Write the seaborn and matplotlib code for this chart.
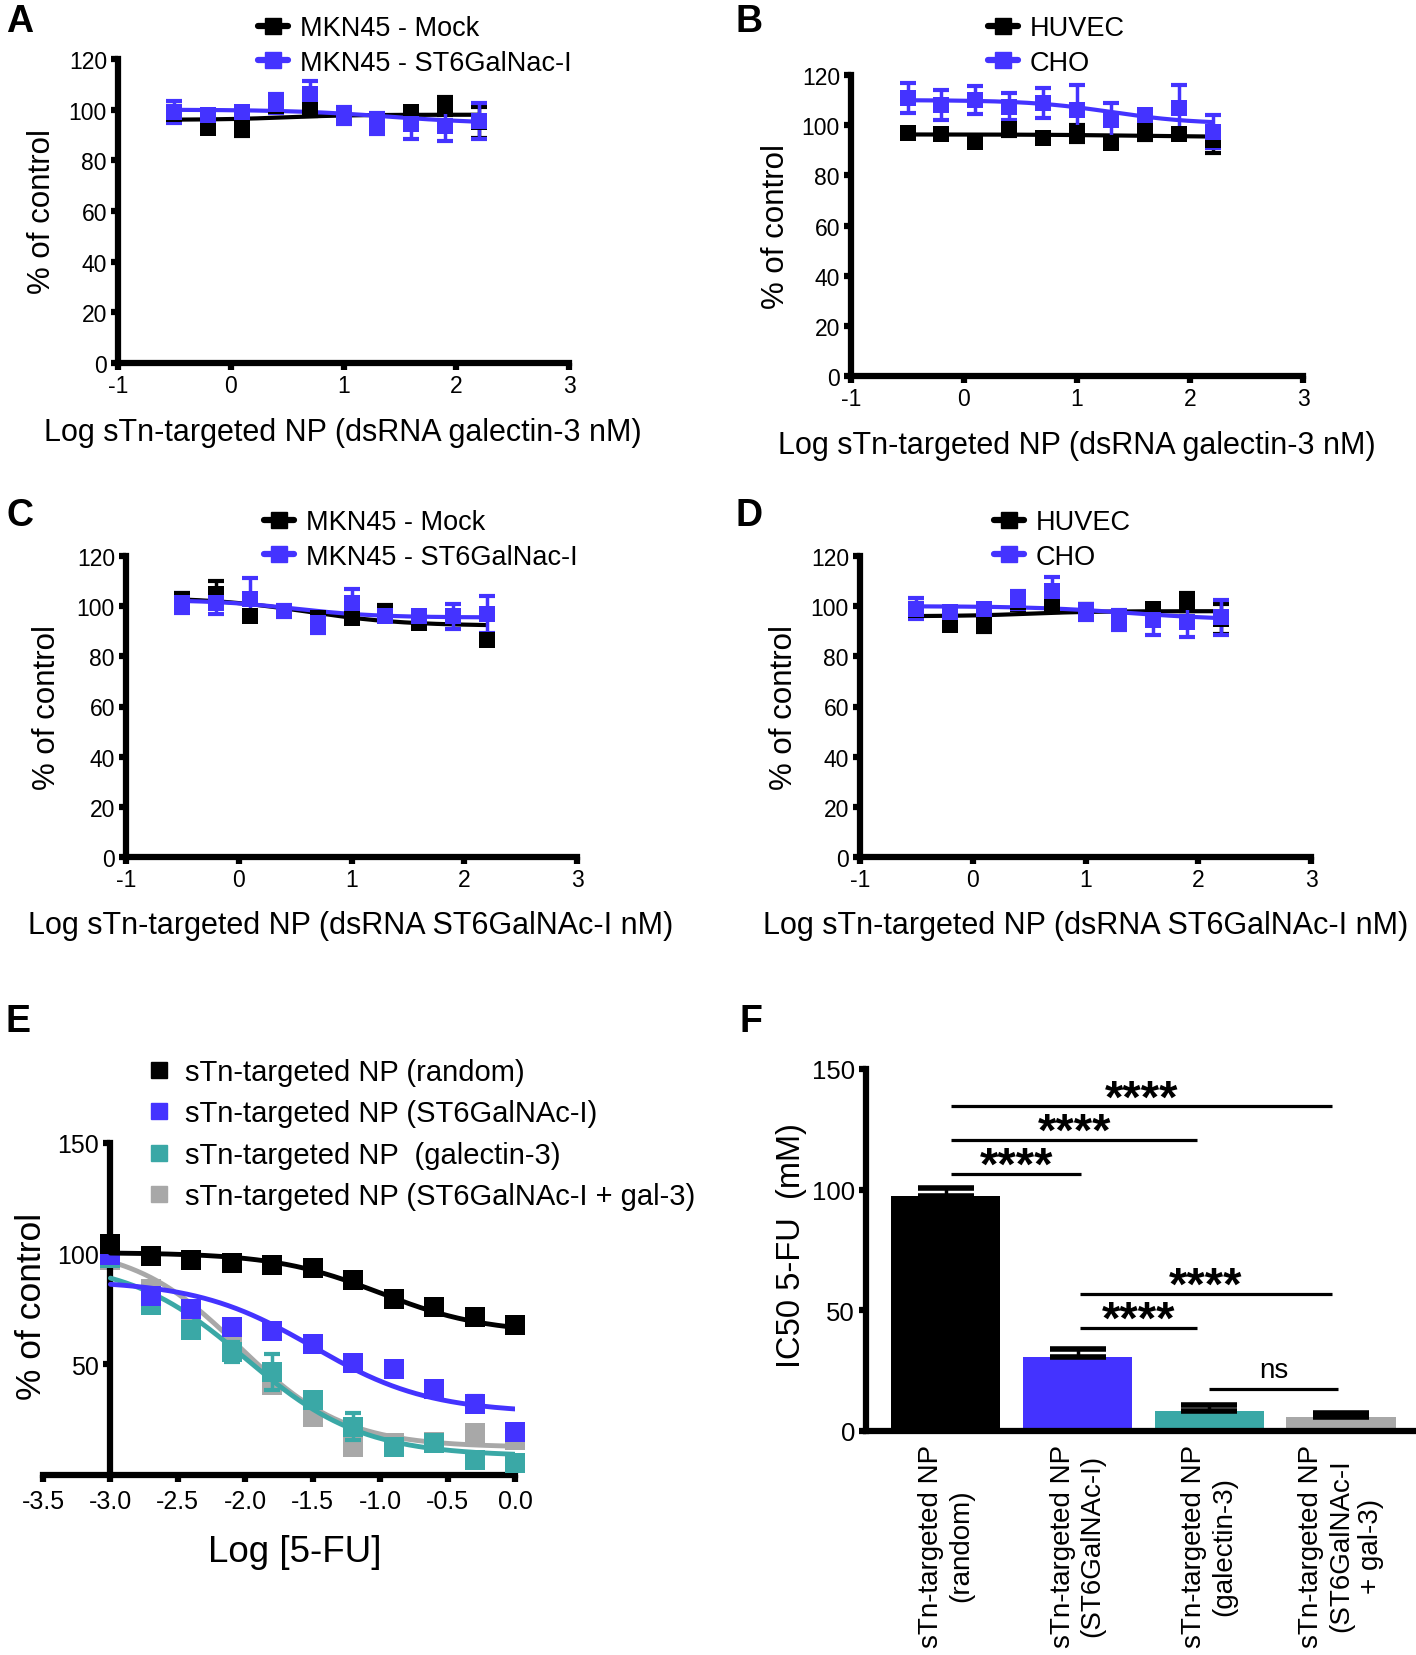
import numpy as np
import matplotlib
matplotlib.use('Agg')
import matplotlib.pyplot as plt
from matplotlib.lines import Line2D
import seaborn as sns

# ---- data ----
# panels A-D: log dose of the sTn-targeted NP
log_np = [-0.5, -0.2, 0.1, 0.4, 0.7, 1.0, 1.3, 1.6, 1.9, 2.2]

# A: dsRNA galectin-3 on MKN45 cells
a_mock = [98.4, 92.6, 92.6, 101.5, 101.0, 97.7, 94.5, 99.0, 101.5, 95.0]
a_mock_sd = [3.0, 2.0, 3.0, 3.0, 3.5, 3.0, 2.0, 2.0, 3.6, 6.0]
a_st6 = [99.0, 97.7, 99.0, 102.4, 106.0, 97.7, 94.5, 94.4, 93.7, 95.5]
a_st6_sd = [4.3, 2.0, 2.0, 3.6, 5.5, 3.3, 4.0, 6.0, 6.0, 7.0]

# B: dsRNA galectin-3 on HUVEC / CHO
b_huvec = [96.7, 96.3, 93.4, 98.5, 94.7, 96.7, 92.8, 98.0, 96.3, 94.0]
b_huvec_sd = [1.5, 1.5, 1.5, 3.0, 1.5, 3.5, 1.5, 4.0, 1.5, 5.0]
b_cho = [111.0, 108.0, 110.0, 107.4, 108.7, 106.0, 102.0, 104.0, 106.7, 97.4]
b_cho_sd = [6.0, 6.0, 5.5, 5.5, 6.0, 10.0, 7.0, 2.0, 9.5, 6.5]

# C: dsRNA ST6GalNAc-I on MKN45 cells
c_mock = [102.7, 104.7, 96.0, 98.0, 95.3, 95.3, 98.0, 93.3, 96.0, 86.7]
c_mock_sd = [2.5, 5.5, 1.5, 2.0, 2.0, 1.5, 2.5, 1.5, 2.0, 1.5]
c_st6 = [101.3, 101.3, 102.7, 98.0, 93.3, 101.3, 96.0, 96.0, 96.0, 96.7]
c_st6_sd = [4.0, 4.5, 8.5, 2.5, 4.0, 5.5, 2.0, 1.5, 5.0, 7.5]

# D: dsRNA ST6GalNAc-I on HUVEC / CHO (same values as shown in A)
d_huvec = [98.4, 92.6, 92.6, 101.5, 101.0, 97.7, 94.5, 99.0, 101.5, 95.0]
d_huvec_sd = [3.0, 2.0, 3.0, 3.0, 3.5, 3.0, 2.0, 2.0, 3.6, 6.0]
d_cho = [99.0, 97.7, 99.0, 102.4, 106.0, 97.7, 94.5, 94.4, 93.7, 95.5]
d_cho_sd = [4.3, 2.0, 2.0, 3.6, 5.5, 3.3, 4.0, 6.0, 6.0, 7.0]

# 4PL fit parameters: top, bottom, logIC50, hill
a_mock_fit = [96.0, 98.0, 0.5, 1.5]
a_st6_fit = [100.0, 94.5, 1.4, 1.0]
b_huvec_fit = [96.3, 95.3, 1.5, 1.0]
b_cho_fit = [110.0, 100.5, 1.3, 1.2]
c_mock_fit = [103.5, 92.2, 0.6, 1.0]
c_st6_fit = [102.5, 95.5, 0.5, 1.2]
d_huvec_fit = a_mock_fit
d_cho_fit = a_st6_fit

# E: 5-FU dose response
log_fu = [-3.0, -2.7, -2.4, -2.1, -1.8, -1.5, -1.2, -0.9, -0.6, -0.3, 0.0]
e_random = [104.4, 98.8, 97.3, 96.0, 95.0, 93.5, 88.3, 79.7, 75.7, 71.5, 67.6]
e_random_sd = [0.8] * 11
e_st6 = [99.2, 80.7, 75.0, 66.8, 64.9, 59.0, 50.6, 48.0, 39.0, 32.3, 19.5]
e_st6_sd = [1, 1, 1, 1, 1, 1, 1, 1, 1, 3.5, 1]
e_gal3 = [98.0, 76.6, 65.3, 55.6, 46.5, 33.8, 21.8, 12.8, 14.3, 6.8, 5.3]
e_gal3_sd = [1, 2.5, 1, 4.5, 8, 1.5, 6, 1, 1, 1, 1]
e_combo = [97.0, 84.0, 70.6, 58.6, 40.5, 26.3, 12.8, 14.3, 15.0, 18.8, 15.8]
e_combo_sd = [1, 1, 1, 1, 1.5, 1, 1, 1, 1, 1, 1]
e_random_fit = [100.5, 64.0, -1.0, 1.1]
e_st6_fit = [88.0, 28.0, -1.5, 1.0]
e_gal3_fit = [97.0, 8.5, -2.0, 1.0]
e_combo_fit = [104.0, 12.5, -2.05, 1.1]
e_names = ['sTn-targeted NP (random)', 'sTn-targeted NP (ST6GalNAc-I)',
           'sTn-targeted NP  (galectin-3)', 'sTn-targeted NP (ST6GalNAc-I + gal-3)']

# F: IC50 of 5-FU
f_labels = ['sTn-targeted NP\n(random)', 'sTn-targeted NP\n(ST6GalNAc-I)',
            'sTn-targeted NP\n(galectin-3)', 'sTn-targeted NP\n(ST6GalNAc-I\n+ gal-3)']
f_ic50 = [97.5, 30.8, 8.4, 5.7]
f_sem = [3.0, 3.3, 2.4, 1.7]
sig_x0 = [0.04, 0.04, 0.04, 1.02, 1.02, 2.0]
sig_x1 = [1.03, 1.91, 2.93, 2.93, 1.91, 2.98]
sig_y = [106.4, 120.7, 134.5, 56.9, 42.8, 17.2]
sig_text = ['****', '****', '****', '****', '****', 'ns']

BLACK = '#000000'
BLUE = '#4433FF'
TEAL = '#3AA8A6'
GRAY = '#A8A8A8'

sns.set_theme(style='ticks')
plt.rcParams['font.family'] = ['Liberation Sans', 'DejaVu Sans']
plt.rcParams['axes.unicode_minus'] = False
for key in ['text.color', 'axes.labelcolor', 'xtick.color', 'ytick.color', 'axes.edgecolor']:
    plt.rcParams[key] = 'black'

W, H = 1416, 1656
fig = plt.figure(figsize=(W / 100, H / 100), dpi=100)


def box(left, right, bottom, top):
    return [left / W, 1 - bottom / H, (right - left) / W, (bottom - top) / H]


def fx(x):
    return x / W


def fy(y):
    return 1 - y / H


def four_pl(x, top, bottom, logic50, hill):
    return bottom + (top - bottom) / (1 + 10 ** ((x - logic50) * hill))


def style(ax, tick_size):
    sns.despine(ax=ax)
    for s in ['left', 'bottom']:
        ax.spines[s].set_linewidth(4.5)
        ax.spines[s].set_color('black')
        ax.spines[s].set_capstyle('projecting')
    ax.tick_params(direction='out', length=5, width=4.5, color='black',
                   labelcolor='black', labelsize=tick_size, pad=3)
    ax.grid(False)


def dose_panel(rect, series, xlabel, xlab_xy, ylab_x, leg_xy, letter, letter_xy):
    ax = fig.add_axes(rect)
    xs = np.linspace(min(log_np), max(log_np), 200)
    handles, names = [], []
    for name, y, sd, fit, color in series:
        sns.lineplot(x=xs, y=four_pl(xs, *fit), color=color, lw=3,
                     estimator=None, legend=False, ax=ax)
        ax.errorbar(log_np, y, yerr=sd, fmt='none', ecolor=color, elinewidth=2.5,
                    capsize=6, capthick=3, clip_on=False)
        sns.scatterplot(x=log_np, y=y, marker='s', s=140, color=color,
                        linewidth=0, legend=False, ax=ax, zorder=3)
        handles.append(Line2D([], [], color=color, lw=4.5, marker='s', ms=12))
        names.append(name)
    ax.set_xlim(-1, 3)
    ax.set_ylim(0, 120)
    ax.set_xticks([-1, 0, 1, 2, 3])
    ax.set_xticklabels(['-1', '0', '1', '2', '3'])
    ax.set_yticks([0, 20, 40, 60, 80, 100, 120])
    style(ax, 16.5)
    ax.set_xlabel(xlabel, fontsize=22, va='center')
    ax.xaxis.set_label_coords(fx(xlab_xy[0]), fy(xlab_xy[1]), transform=fig.transFigure)
    ax.set_ylabel('% of control', fontsize=22.5, va='center')
    ylab_y = (rect[1] + rect[3] / 2)
    ax.yaxis.set_label_coords(fx(ylab_x), ylab_y, transform=fig.transFigure)
    ax.legend(handles, names, loc='upper left', bbox_to_anchor=(fx(leg_xy[0]), fy(leg_xy[1])),
              bbox_transform=fig.transFigure, frameon=False, fontsize=19.5,
              handlelength=1.1, handletextpad=0.45, labelspacing=0.33,
              borderpad=0, borderaxespad=0)
    fig.text(fx(letter_xy[0]), fy(letter_xy[1]), letter, fontsize=27,
             fontweight='bold', ha='left', va='baseline')
    return ax


xlab_gal = 'Log sTn-targeted NP (dsRNA galectin-3 nM)'
xlab_st6 = 'Log sTn-targeted NP (dsRNA ST6GalNAc-I nM)'

dose_panel(box(118, 569, 364, 60),
           [('MKN45 - Mock', a_mock, a_mock_sd, a_mock_fit, BLACK),
            ('MKN45 - ST6GalNac-I', a_st6, a_st6_sd, a_st6_fit, BLUE)],
           xlab_gal, (343, 433), 42, (258, 16), 'A', (6, 32))

dose_panel(box(851, 1303, 377, 76),
           [('HUVEC', b_huvec, b_huvec_sd, b_huvec_fit, BLACK),
            ('CHO', b_cho, b_cho_sd, b_cho_fit, BLUE)],
           xlab_gal, (1077, 446), 776, (988, 16), 'B', (736, 32))

dose_panel(box(126, 577, 858, 557),
           [('MKN45 - Mock', c_mock, c_mock_sd, c_mock_fit, BLACK),
            ('MKN45 - ST6GalNac-I', c_st6, c_st6_sd, c_st6_fit, BLUE)],
           xlab_st6, (351, 926), 47, (264, 510), 'C', (6, 526))

dose_panel(box(860, 1311, 858, 557),
           [('HUVEC', d_huvec, d_huvec_sd, d_huvec_fit, BLACK),
            ('CHO', d_cho, d_cho_sd, d_cho_fit, BLUE)],
           xlab_st6, (1086, 926), 784, (994, 510), 'D', (736, 526))

# ---- E ----
ax = fig.add_axes(box(43, 515, 1476, 1144))
xs = np.linspace(min(log_fu), max(log_fu), 300)
e_series = [(e_names[0], e_random, e_random_sd, e_random_fit, BLACK),
            (e_names[1], e_st6, e_st6_sd, e_st6_fit, BLUE),
            (e_names[2], e_gal3, e_gal3_sd, e_gal3_fit, TEAL),
            (e_names[3], e_combo, e_combo_sd, e_combo_fit, GRAY)]
for k, (name, y, sd, fit, color) in enumerate(reversed(e_series)):
    z = 2 + k
    sns.lineplot(x=xs, y=four_pl(xs, *fit), color=color, lw=3.5,
                 estimator=None, legend=False, ax=ax, zorder=z)
    ax.errorbar(log_fu, y, yerr=sd, fmt='none', ecolor=color, elinewidth=2.5,
                capsize=6, capthick=3, clip_on=False, zorder=z)
    sns.scatterplot(x=log_fu, y=y, marker='s', s=210, color=color,
                    linewidth=0, legend=False, ax=ax, zorder=z + 0.5, clip_on=False)
ax.set_xlim(-3.5, 0.0)
ax.set_ylim(0, 150)
ax.spines['left'].set_position(('data', -3.0))
ax.set_xticks([-3.5, -3.0, -2.5, -2.0, -1.5, -1.0, -0.5, 0.0])
ax.set_xticklabels(['-3.5', '-3.0', '-2.5', '-2.0', '-1.5', '-1.0', '-0.5', '0.0'])
ax.set_yticks([50, 100, 150])
style(ax, 18)
ax.tick_params(axis='x', pad=5)
ax.set_xlabel('Log [5-FU]', fontsize=26.5, va='center')
ax.xaxis.set_label_coords(fx(295), fy(1553), transform=fig.transFigure)
ax.set_ylabel('% of control', fontsize=25.5, va='center')
ax.yaxis.set_label_coords(fx(32), fy(1306), transform=fig.transFigure)
e_handles = [Line2D([], [], ls='none', marker='s', ms=11, color=c, mec=c)
             for c in [BLACK, BLUE, TEAL, GRAY]]
ax.legend(e_handles, e_names, loc='upper left', bbox_to_anchor=(fx(144), fy(1059)),
          bbox_transform=fig.transFigure, frameon=False, fontsize=21,
          handlelength=1.0, handletextpad=0.42, labelspacing=0.46,
          borderpad=0, borderaxespad=0)
fig.text(fx(6), fy(1032), 'E', fontsize=27, fontweight='bold', ha='left', va='baseline')

# ---- F ----
ax = fig.add_axes(box(866, 1416, 1432, 1070))
f_colors = [BLACK, BLUE, TEAL, GRAY]
sns.barplot(x=f_labels, y=f_ic50, hue=f_labels, palette=f_colors, saturation=1,
            width=0.83, legend=False, errorbar=None, linewidth=0, ax=ax)
# upper-only SEM bars, drawn in black
ax.errorbar(range(len(f_ic50)), f_ic50, yerr=[[0] * len(f_sem), f_sem], fmt='none',
            ecolor='black', elinewidth=2.5, capsize=20, capthick=4)
for x0, x1, y, t in zip(sig_x0, sig_x1, sig_y, sig_text):
    ax.plot([x0, x1], [y, y], color='black', lw=2.3, solid_capstyle='butt')
    if t == 'ns':
        ax.text((x0 + x1) / 2, y + 5.0, t, ha='center', va='baseline', fontsize=20)
    else:
        ax.text((x0 + x1) / 2, y - 2.0, t, ha='center', va='baseline',
                fontsize=34, fontweight='bold')
ax.set_xlim(-0.606, 3.57)
ax.set_ylim(0, 150)
ax.set_yticks([0, 50, 100, 150])
style(ax, 18.5)
ax.tick_params(axis='x', length=0, pad=9)
ax.set_xticks(range(len(f_labels)))
ax.set_xticklabels(f_labels, rotation=90, ha='center', va='top',
                   multialignment='center', fontsize=20)
ax.set_xlabel('')
ax.set_ylabel('IC50 5-FU  (mM)', fontsize=23.5, va='center')
ax.yaxis.set_label_coords(fx(792), fy(1246), transform=fig.transFigure)
fig.text(fx(740), fy(1032), 'F', fontsize=27, fontweight='bold', ha='left', va='baseline')

fig.savefig('out.png', dpi=100, facecolor='white')
